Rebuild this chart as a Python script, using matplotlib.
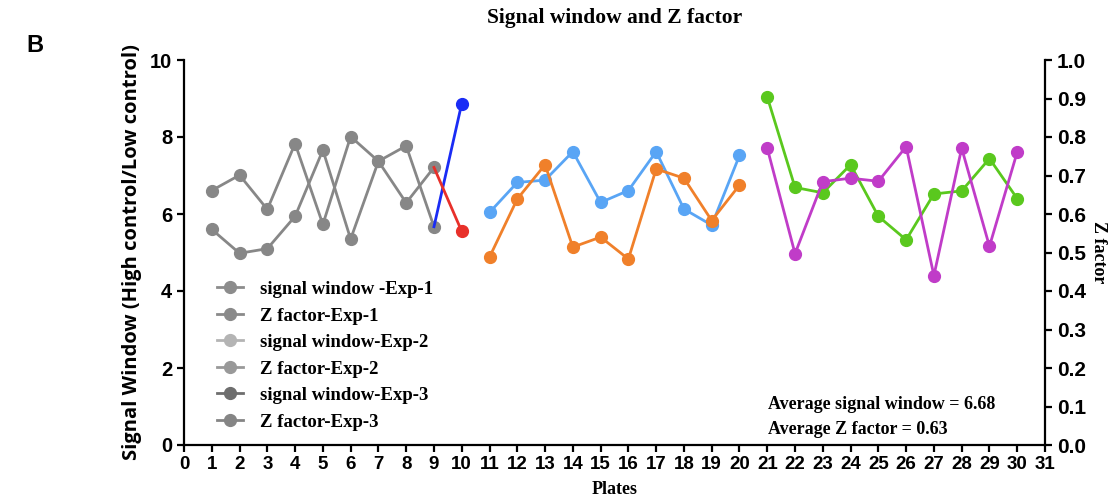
import numpy as np
import matplotlib
matplotlib.use('Agg')
import matplotlib.pyplot as plt
from matplotlib.lines import Line2D

# ── Data ──────────────────────────────────────────────────────────────────────
plates_exp1 = list(range(1, 11))
plates_exp2 = list(range(11, 21))
plates_exp3 = list(range(21, 31))

sw_exp1 = [5.60, 4.98, 5.10, 5.94, 7.66, 5.35, 7.37, 7.77, 5.67, 8.87]
z_exp1 = [0.661, 0.701, 0.612, 0.783, 0.573, 0.801, 0.737, 0.629, 0.721, 0.555]

sw_exp2 = [6.04, 6.82, 6.88, 7.62, 6.30, 6.61, 7.62, 6.13, 5.71, 7.52]
z_exp2 = [0.488, 0.639, 0.728, 0.514, 0.540, 0.483, 0.717, 0.693, 0.583, 0.675]

sw_exp3 = [9.04, 6.69, 6.55, 7.28, 5.94, 5.33, 6.52, 6.60, 7.44, 6.40]
z_exp3 = [0.771, 0.497, 0.684, 0.693, 0.685, 0.775, 0.440, 0.771, 0.516, 0.761]

legend_labels = ['signal window -Exp-1', 'Z factor-Exp-1', 'signal window-Exp-2',
                 'Z factor-Exp-2', 'signal window-Exp-3', 'Z factor-Exp-3']
avg_sw = 6.68
avg_z = 0.63

# ── Style ─────────────────────────────────────────────────────────────────────
GRAY = '#878787'
BLUE = '#1a2cf5'
RED = '#e8302a'
LBLUE = '#59a5f5'
ORANGE = '#f0802a'
GREEN = '#5ac81e'
MAGENTA = '#c03cc8'
legend_grays = ['#8c8c8c', '#8a8a8a', '#b4b4b4', '#999999', '#6e6e6e', '#858585']

SERIF = 'Liberation Serif'
SANS = 'Liberation Sans'
LW = 2.0
MS = 8.5

fig = plt.figure(figsize=(11.13, 5.01), dpi=100)
ax = fig.add_axes([184 / 1113, 1 - 445 / 501, (1045 - 184) / 1113, (445 - 60) / 501])
ax2 = ax.twinx()

# Exp-1: first nine plates rendered gray, last segment coloured
ax.plot(plates_exp1[:9], sw_exp1[:9], '-o', color=GRAY, lw=LW, ms=MS, zorder=3)
ax.plot(plates_exp1[8:], sw_exp1[8:], '-', color=BLUE, lw=LW, zorder=3)
ax.plot(plates_exp1[9:], sw_exp1[9:], 'o', color=BLUE, ms=MS, zorder=4)
ax2.plot(plates_exp1[:9], z_exp1[:9], '-o', color=GRAY, lw=LW, ms=MS, zorder=3)
ax2.plot(plates_exp1[8:], z_exp1[8:], '-', color=RED, lw=LW, zorder=3)
ax2.plot(plates_exp1[9:], z_exp1[9:], 'o', color=RED, ms=MS, zorder=4)

# Exp-2
ax.plot(plates_exp2, sw_exp2, '-o', color=LBLUE, lw=LW, ms=MS, zorder=3)
ax2.plot(plates_exp2, z_exp2, '-o', color=ORANGE, lw=LW, ms=MS, zorder=3)

# Exp-3
ax.plot(plates_exp3, sw_exp3, '-o', color=GREEN, lw=LW, ms=MS, zorder=3)
ax2.plot(plates_exp3, z_exp3, '-o', color=MAGENTA, lw=LW, ms=MS, zorder=3)

# ── Axes ──────────────────────────────────────────────────────────────────────
ax.set_xlim(0, 31)
ax.set_ylim(0, 10)
ax2.set_ylim(0, 1)
ax.set_xticks(range(0, 32))
ax.set_yticks(range(0, 11, 2))
ax2.set_yticks(np.arange(0, 1.01, 0.1))
ax2.set_yticklabels([f'{v:.1f}' for v in np.arange(0, 1.01, 0.1)])

for a in (ax, ax2):
    a.spines['top'].set_visible(False)
    for s in ('left', 'right', 'bottom'):
        a.spines[s].set_linewidth(1.6)
    a.tick_params(width=1.6, length=5, direction='out')
ax.spines['right'].set_visible(False)
ax2.spines['left'].set_visible(False)
ax2.spines['bottom'].set_visible(False)

for lab in ax.get_xticklabels():
    lab.set_fontfamily(SANS)
    lab.set_fontweight('bold')
    lab.set_fontsize(13.5)
for lab in ax.get_yticklabels():
    lab.set_fontfamily(SANS)
    lab.set_fontweight('bold')
    lab.set_fontsize(14.5)
for lab in ax2.get_yticklabels():
    lab.set_fontfamily(SANS)
    lab.set_fontweight('bold')
    lab.set_fontsize(15)
ax.tick_params(axis='x', pad=3)

ax.set_ylabel('Signal Window (High control/Low control)', fontfamily='Open Sans',
              fontweight='bold', fontsize=14.5, labelpad=6)
ax2.set_ylabel('Z factor', fontfamily=SERIF, fontweight='bold', fontsize=13,
               rotation=270, labelpad=15)
ax.set_xlabel('Plates', fontfamily=SERIF, fontweight='bold', fontsize=13, labelpad=6)
ax.set_title('Signal window and Z factor', fontfamily=SERIF, fontweight='bold',
             fontsize=15.5, pad=27)

fig.text(26 / 1113, 1 - 46 / 501, 'B', fontfamily=SANS, fontweight='bold',
         fontsize=17, va='center', ha='left')

# Legend (all handles shown in gray)
handles = [Line2D([0], [0], color=c, lw=LW, marker='o', ms=MS) for c in legend_grays]
leg = ax.legend(handles, legend_labels, loc='upper left', bbox_to_anchor=(0.019, 0.47),
                frameon=False, handlelength=1.4, handletextpad=0.9, labelspacing=0.5,
                prop={'family': SERIF, 'weight': 'bold', 'size': 13.5})

ax.text(0.678, 0.105, f'Average signal window = {avg_sw:.2f}', transform=ax.transAxes,
        fontfamily=SERIF, fontweight='bold', fontsize=13, va='center', ha='left')
ax.text(0.678, 0.04, f'Average Z factor = {avg_z:.2f}', transform=ax.transAxes,
        fontfamily=SERIF, fontweight='bold', fontsize=13, va='center', ha='left')

fig.savefig('out.png', dpi=100)
